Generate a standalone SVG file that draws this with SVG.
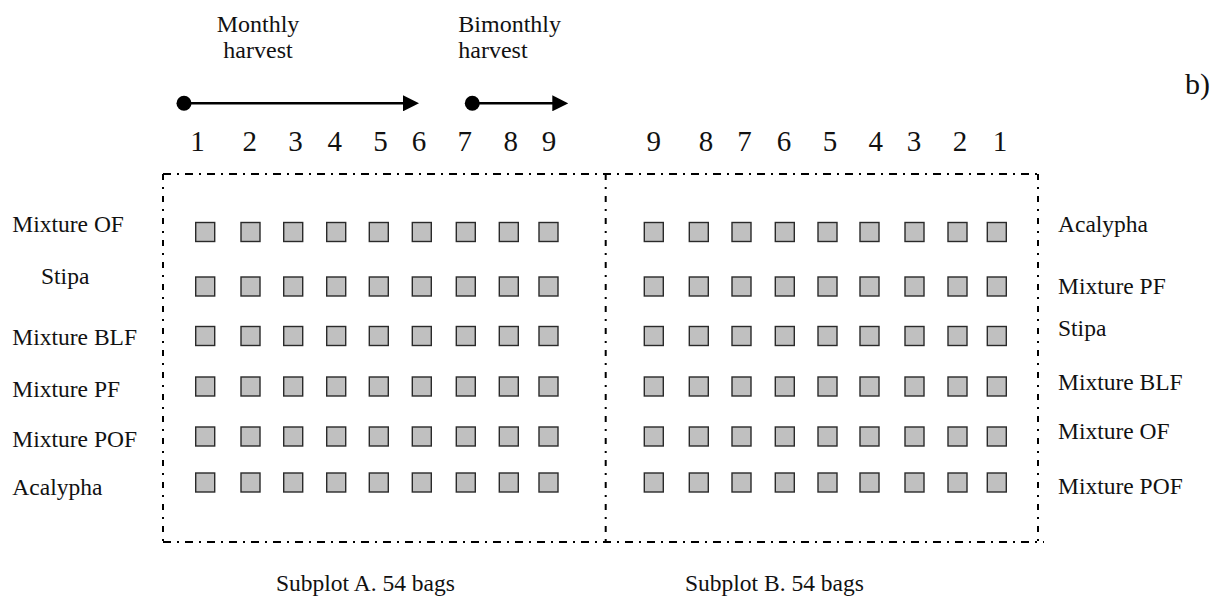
<svg xmlns="http://www.w3.org/2000/svg" width="1225" height="600" viewBox="0 0 1225 600">
<style>
text{font-family:"Liberation Serif","Times New Roman",serif;fill:#111}
.lbl{font-size:23.5px}
.top{font-size:24px}
.num{font-size:29px;text-anchor:middle}
.bag{fill:#c0c0c0;stroke:#2a2a2a;stroke-width:1.4}
.h{stroke:#000;stroke-width:2;fill:none;stroke-dasharray:8 6 2 6}
.v{stroke:#000;stroke-width:2;fill:none;stroke-dasharray:6 7 2 7}
.arr{stroke:#000;stroke-width:2.5;fill:none}
</style>
<defs>
<marker id="ah" markerUnits="userSpaceOnUse" markerWidth="16" markerHeight="16" refX="7" refY="8" orient="auto">
<path d="M0,0 L16,8 L0,16 z" fill="#000"/>
</marker>
<rect id="sq" width="19" height="19"/>
</defs>
<rect width="1225" height="600" fill="#fff"/>

<g id="harvest-labels">
<text class="top" x="258" y="31.7" text-anchor="middle">Monthly</text>
<text class="top" x="258" y="58.3" text-anchor="middle">harvest</text>
<text class="top" x="458.3" y="31.7">Bimonthly</text>
<text class="top" x="458.3" y="58.3">harvest</text>
<text x="1185" y="93.5" style="font-size:30px">b)</text>
</g>

<g id="connectors">
<circle cx="184" cy="103.3" r="7.5" fill="#000"/>
<line class="arr" x1="184" y1="103.3" x2="410" y2="103.3" marker-end="url(#ah)"/>
<circle cx="472.3" cy="103.3" r="7.5" fill="#000"/>
<line class="arr" x1="472.3" y1="103.3" x2="559.3" y2="103.3" marker-end="url(#ah)"/>
</g>

<g id="numbers-A">
<text class="num" x="197.5" y="151">1</text>
<text class="num" x="249.7" y="151">2</text>
<text class="num" x="295.5" y="151">3</text>
<text class="num" x="334.7" y="151">4</text>
<text class="num" x="380.5" y="151">5</text>
<text class="num" x="419" y="151">6</text>
<text class="num" x="464.7" y="151">7</text>
<text class="num" x="510.8" y="151">8</text>
<text class="num" x="549" y="151">9</text>
</g>
<g id="numbers-B">
<text class="num" x="653.8" y="151">9</text>
<text class="num" x="706" y="151">8</text>
<text class="num" x="744.5" y="151">7</text>
<text class="num" x="784" y="151">6</text>
<text class="num" x="830" y="151">5</text>
<text class="num" x="875.8" y="151">4</text>
<text class="num" x="914" y="151">3</text>
<text class="num" x="960" y="151">2</text>
<text class="num" x="1000" y="151">1</text>
</g>

<g id="plot-border">
<line class="h" x1="163" y1="174" x2="1038" y2="174"/>
<line class="h" x1="163" y1="542" x2="1044" y2="542"/>
<line class="v" x1="163" y1="174" x2="163" y2="542"/>
<line class="v" x1="605.7" y1="174" x2="605.7" y2="542"/>
<line class="v" x1="1038" y1="174" x2="1038" y2="542"/>
</g>

<g id="labels-A">
<text class="lbl" x="12.3" y="231.7">Mixture OF</text>
<text class="lbl" x="41" y="284">Stipa</text>
<text class="lbl" x="12.3" y="345">Mixture BLF</text>
<text class="lbl" x="12.3" y="397">Mixture PF</text>
<text class="lbl" x="12.3" y="447">Mixture POF</text>
<text class="lbl" x="12.3" y="495">Acalypha</text>
</g>
<g id="labels-B">
<text class="lbl" x="1058" y="231.7">Acalypha</text>
<text class="lbl" x="1058" y="294">Mixture PF</text>
<text class="lbl" x="1058" y="336">Stipa</text>
<text class="lbl" x="1058" y="390">Mixture BLF</text>
<text class="lbl" x="1058" y="439">Mixture OF</text>
<text class="lbl" x="1058" y="494">Mixture POF</text>
</g>

<g id="subplot-A">
<g id="A-row1" transform="translate(0,222.5)"><use href="#sq" class="bag" x="195.7"/><use href="#sq" class="bag" x="241"/><use href="#sq" class="bag" x="283.7"/><use href="#sq" class="bag" x="326.7"/><use href="#sq" class="bag" x="369.3"/><use href="#sq" class="bag" x="412.3"/><use href="#sq" class="bag" x="456.3"/><use href="#sq" class="bag" x="499.3"/><use href="#sq" class="bag" x="539"/></g>
<g id="A-row2" transform="translate(0,277)"><use href="#sq" class="bag" x="195.7"/><use href="#sq" class="bag" x="241"/><use href="#sq" class="bag" x="283.7"/><use href="#sq" class="bag" x="326.7"/><use href="#sq" class="bag" x="369.3"/><use href="#sq" class="bag" x="412.3"/><use href="#sq" class="bag" x="456.3"/><use href="#sq" class="bag" x="499.3"/><use href="#sq" class="bag" x="539"/></g>
<g id="A-row3" transform="translate(0,326.5)"><use href="#sq" class="bag" x="195.7"/><use href="#sq" class="bag" x="241"/><use href="#sq" class="bag" x="283.7"/><use href="#sq" class="bag" x="326.7"/><use href="#sq" class="bag" x="369.3"/><use href="#sq" class="bag" x="412.3"/><use href="#sq" class="bag" x="456.3"/><use href="#sq" class="bag" x="499.3"/><use href="#sq" class="bag" x="539"/></g>
<g id="A-row4" transform="translate(0,377)"><use href="#sq" class="bag" x="195.7"/><use href="#sq" class="bag" x="241"/><use href="#sq" class="bag" x="283.7"/><use href="#sq" class="bag" x="326.7"/><use href="#sq" class="bag" x="369.3"/><use href="#sq" class="bag" x="412.3"/><use href="#sq" class="bag" x="456.3"/><use href="#sq" class="bag" x="499.3"/><use href="#sq" class="bag" x="539"/></g>
<g id="A-row5" transform="translate(0,427)"><use href="#sq" class="bag" x="195.7"/><use href="#sq" class="bag" x="241"/><use href="#sq" class="bag" x="283.7"/><use href="#sq" class="bag" x="326.7"/><use href="#sq" class="bag" x="369.3"/><use href="#sq" class="bag" x="412.3"/><use href="#sq" class="bag" x="456.3"/><use href="#sq" class="bag" x="499.3"/><use href="#sq" class="bag" x="539"/></g>
<g id="A-row6" transform="translate(0,473)"><use href="#sq" class="bag" x="195.7"/><use href="#sq" class="bag" x="241"/><use href="#sq" class="bag" x="283.7"/><use href="#sq" class="bag" x="326.7"/><use href="#sq" class="bag" x="369.3"/><use href="#sq" class="bag" x="412.3"/><use href="#sq" class="bag" x="456.3"/><use href="#sq" class="bag" x="499.3"/><use href="#sq" class="bag" x="539"/></g>
</g>

<g id="subplot-B">
<g id="B-row1" transform="translate(0,222.5)"><use href="#sq" class="bag" x="644.3"/><use href="#sq" class="bag" x="689.3"/><use href="#sq" class="bag" x="732"/><use href="#sq" class="bag" x="775.3"/><use href="#sq" class="bag" x="818"/><use href="#sq" class="bag" x="860"/><use href="#sq" class="bag" x="905"/><use href="#sq" class="bag" x="948"/><use href="#sq" class="bag" x="987.3"/></g>
<g id="B-row2" transform="translate(0,277)"><use href="#sq" class="bag" x="644.3"/><use href="#sq" class="bag" x="689.3"/><use href="#sq" class="bag" x="732"/><use href="#sq" class="bag" x="775.3"/><use href="#sq" class="bag" x="818"/><use href="#sq" class="bag" x="860"/><use href="#sq" class="bag" x="905"/><use href="#sq" class="bag" x="948"/><use href="#sq" class="bag" x="987.3"/></g>
<g id="B-row3" transform="translate(0,326.5)"><use href="#sq" class="bag" x="644.3"/><use href="#sq" class="bag" x="689.3"/><use href="#sq" class="bag" x="732"/><use href="#sq" class="bag" x="775.3"/><use href="#sq" class="bag" x="818"/><use href="#sq" class="bag" x="860"/><use href="#sq" class="bag" x="905"/><use href="#sq" class="bag" x="948"/><use href="#sq" class="bag" x="987.3"/></g>
<g id="B-row4" transform="translate(0,377)"><use href="#sq" class="bag" x="644.3"/><use href="#sq" class="bag" x="689.3"/><use href="#sq" class="bag" x="732"/><use href="#sq" class="bag" x="775.3"/><use href="#sq" class="bag" x="818"/><use href="#sq" class="bag" x="860"/><use href="#sq" class="bag" x="905"/><use href="#sq" class="bag" x="948"/><use href="#sq" class="bag" x="987.3"/></g>
<g id="B-row5" transform="translate(0,427)"><use href="#sq" class="bag" x="644.3"/><use href="#sq" class="bag" x="689.3"/><use href="#sq" class="bag" x="732"/><use href="#sq" class="bag" x="775.3"/><use href="#sq" class="bag" x="818"/><use href="#sq" class="bag" x="860"/><use href="#sq" class="bag" x="905"/><use href="#sq" class="bag" x="948"/><use href="#sq" class="bag" x="987.3"/></g>
<g id="B-row6" transform="translate(0,473)"><use href="#sq" class="bag" x="644.3"/><use href="#sq" class="bag" x="689.3"/><use href="#sq" class="bag" x="732"/><use href="#sq" class="bag" x="775.3"/><use href="#sq" class="bag" x="818"/><use href="#sq" class="bag" x="860"/><use href="#sq" class="bag" x="905"/><use href="#sq" class="bag" x="948"/><use href="#sq" class="bag" x="987.3"/></g>
</g>

<g id="captions">
<text class="lbl" x="276" y="590.5">Subplot A. 54 bags</text>
<text class="lbl" x="685" y="590.5">Subplot B. 54 bags</text>
</g>
</svg>
